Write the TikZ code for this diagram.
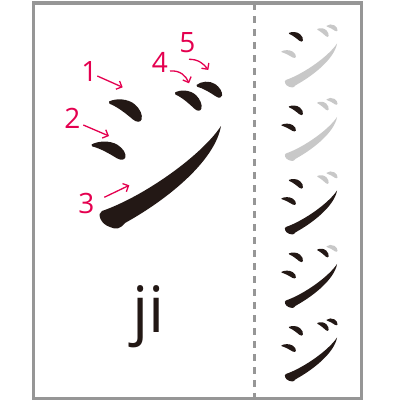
\documentclass[tikz,border=0pt]{standalone}
\usepackage{fontspec}
\newfontfamily\lblfont{Open Sans}
\usetikzlibrary{arrows.meta}
\definecolor{inkc}{RGB}{35,24,21}
\definecolor{lgc}{RGB}{200,200,200}
\definecolor{framec}{RGB}{150,150,150}
\definecolor{redc}{RGB}{228,0,79}
% generic drop (tip at origin)
\newcommand\jidrop[1]{\fill[#1] (0,0) .. controls (7,-3.5) and (19,-3) .. (26,3) .. controls (31,7.5) and (34,13.5) .. (32.5,18) .. controls (31.5,21) and (27.5,21) .. (24,18) .. controls (18,13) and (9,5.5) .. (0.5,2.2) -- cycle;}
\newcommand\jiA[1]{\begin{scope}[shift={(109,101.5)}]\jidrop{#1}\end{scope}}
\newcommand\jiB[1]{\begin{scope}[shift={(91.5,144.5)}, rotate=5, yscale=0.88]\jidrop{#1}\end{scope}}
\newcommand\jiC[1]{\fill[#1] (221,126) .. controls (202,155) and (145,196) .. (102,211) .. controls (97,213) and (100,224) .. (110,227) .. controls (116,230) and (120,229) .. (125,223) .. controls (170,198) and (215,160) .. (221,126) -- cycle;}
\newcommand\jiD[1]{\begin{scope}[shift={(175,92.5)}, xscale=0.81, yscale=0.9]\jidrop{#1}\end{scope}}
\newcommand\jiE[1]{\begin{scope}[shift={(196.5,85)}, rotate=10, xscale=0.72, yscale=0.82]\jidrop{#1}\end{scope}}
\newcommand\jifill[3]{\ifnum#2>#1\relax#3{lgc}\else#3{inkc}\fi}
\newcommand\jistep[2]{%
  \begin{scope}[shift={(296,#1)}, scale=0.43, shift={(-125.5,-111)}]
    \jifill{#2}{1}{\jiA}\jifill{#2}{2}{\jiB}\jifill{#2}{3}{\jiC}\jifill{#2}{4}{\jiD}\jifill{#2}{5}{\jiE}
  \end{scope}}
\begin{document}
\begin{tikzpicture}[x=1pt,y=-1pt,
  numlbl/.style={text=redc, font=\lblfont\fontsize{28}{28}\selectfont, inner sep=0pt},
  redarr/.style={draw=redc, line width=1.3pt, -{Straight Barb[length=4.5pt,width=9pt]}}]
\useasboundingbox (0,0) rectangle (400,400);
\draw[framec, line width=3.3pt] (33.3,3) rectangle (361.7,398.3);
\draw[framec, line width=3pt, dash pattern=on 7pt off 6pt] (254.3,3) -- (254.3,398);
% big character
\jiA{inkc}
\jiB{inkc}
\jiC{inkc}
\jiD{inkc}
\jiE{inkc}
% stroke numbers
\node[numlbl] (n1) at (89.5,72) {1};
\node[numlbl] (n2) at (72.5,118) {2};
\node[numlbl] (n3) at (86.5,203) {3};
\node[numlbl] (n4) at (160,62.5) {4};
\node[numlbl] (n5) at (187.5,42.5) {5};
\coordinate (a1s) at (97.3,76); \coordinate (a1e) at (122.7,87.3);
\coordinate (a2s) at (83.3,125); \coordinate (a2e) at (109,136);
\coordinate (a3s) at (104.3,197.3); \coordinate (a3e) at (129.3,185.3);
\coordinate (a4s) at (170,71); \coordinate (a4e) at (189,83.3);
\coordinate (a5s) at (189,59.3); \coordinate (a5e) at (208.3,70);
\draw[redarr] (a1s) -- (a1e);
\draw[redarr] (a2s) -- (a2e);
\draw[redarr] (a3s) -- (a3e);
\draw[redarr] (a4s) .. controls (180,70) and (186,76) .. (a4e);
\draw[redarr] (a5s) .. controls (198,59) and (204,64) .. (a5e);
% romanization
\node[font=\lblfont\fontsize{64}{64}\selectfont, text=inkc, anchor=base, inner sep=0pt] (ji) at (148.5,332.7) {ji};
% stroke order steps
\jistep{37}{1}
\jistep{110.5}{2}
\jistep{184}{3}
\jistep{257.5}{4}
\jistep{331}{5}
\end{tikzpicture}
\end{document}
